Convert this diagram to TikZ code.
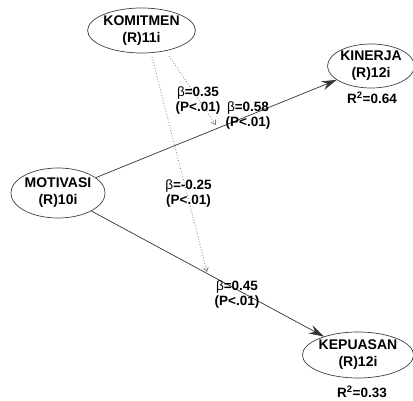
\documentclass[tikz,border=0pt]{standalone}
\usepackage{fontspec}
\setmainfont{Liberation Sans}
\usetikzlibrary{shapes.geometric,arrows.meta}
\newcommand{\bet}{{\mdseries β}}
\begin{document}
\begin{tikzpicture}[x=1pt,y=-1pt,
  latent/.style={ellipse,draw=black!75,line width=0.7pt,inner sep=0pt,align=center,
    font=\fontsize{14}{17}\selectfont\bfseries,text=black},
  coef/.style={align=center,font=\fontsize{13.5}{15}\selectfont\bfseries,text=black,inner sep=0pt},
  rsq/.style={font=\fontsize{13.5}{15}\selectfont\bfseries,text=black,inner sep=0pt},
  path/.style={draw=black!80,line width=0.7pt,-{Stealth[length=15pt,width=9pt,inset=5pt]}},
  modpath/.style={draw=black!50,line width=0.8pt,dotted,-{Straight Barb[length=4pt,width=5pt]}}]
\useasboundingbox (0,0) rectangle (413,401);
\node[latent,minimum width=93pt,minimum height=45pt] (kom) at (141.5,30.5) {KOMITMEN\\(R)11i};
\node[latent,minimum width=90pt,minimum height=50pt] (mot) at (58,193) {MOTIVASI\\(R)10i};
\node[latent,minimum width=82pt,minimum height=44pt] (kin) at (371,66) {KINERJA\\(R)12i};
\node[latent,minimum width=90pt,minimum height=46pt] (kep) at (358,355) {KEPUASAN\\(R)12i};
\node[rsq] (r1) at (372,98) {R\textsuperscript{2}=0.64};
\node[rsq] (r2) at (362,392) {R\textsuperscript{2}=0.33};
\draw[path] (mot) -- (kin);
\draw[path] (mot) -- (kep);
\coordinate (ka) at (152,57);
\coordinate (kb) at (169,56);
\coordinate (ta) at (207,272);
\coordinate (tb) at (216,125);
\draw[modpath] (ka) -- (ta);
\draw[modpath] (kb) -- (tb);
\node[coef] (c1) at (198,100.5) {\bet=0.35\\(P<.01)};
\node[coef] (c2) at (248,115.5) {\bet=0.58\\(P<.01)};
\node[coef] (c3) at (188.5,193.5) {\bet=-0.25\\(P<.01)};
\node[coef] (c4) at (237,294.5) {\bet=0.45\\(P<.01)};
\end{tikzpicture}
\end{document}
